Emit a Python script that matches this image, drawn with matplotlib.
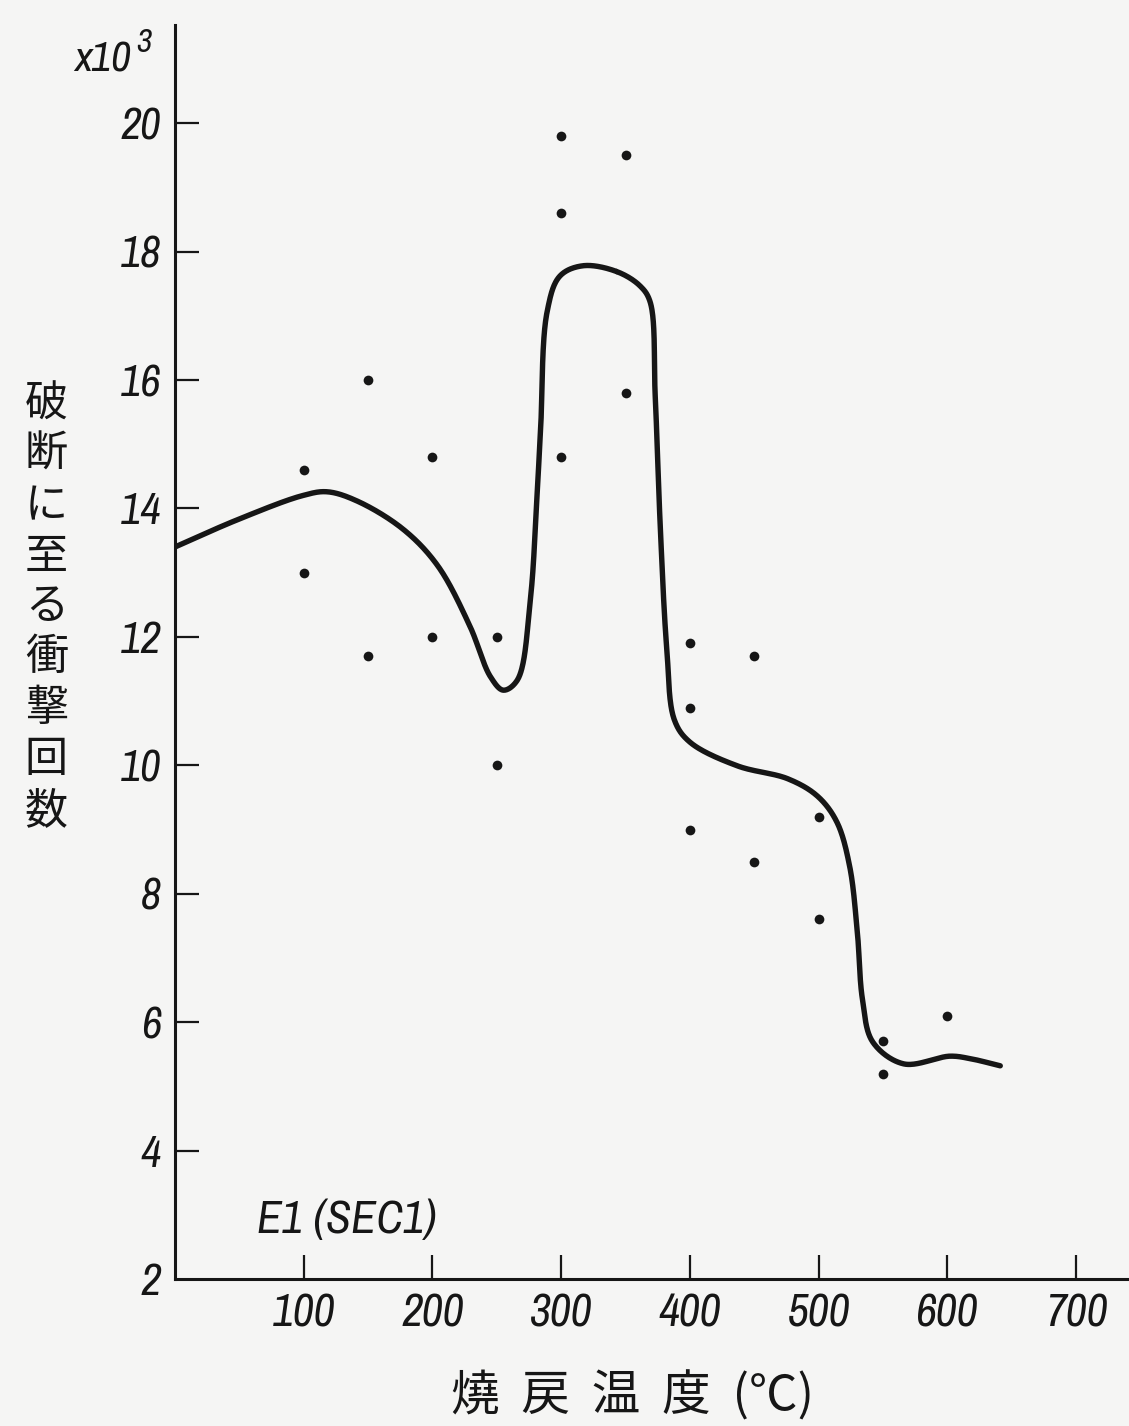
import numpy as np
import matplotlib

matplotlib.use("Agg")
import matplotlib.pyplot as plt

# measured impact counts to fracture (x10^3) vs. tempering temperature
temp_pts = [100, 100, 150, 150, 200, 200, 250, 250, 300, 300, 300,
            350, 350, 400, 400, 400, 450, 450, 500, 500, 550, 550, 600]
count_pts = [14.6, 13.0, 16.0, 11.7, 14.8, 12.0, 12.0, 10.0, 19.8, 18.6, 14.8,
             19.5, 15.8, 11.9, 10.9, 9.0, 11.7, 8.5, 9.2, 7.6, 5.7, 5.2, 6.1]

# hand-drawn trend curve, control points
curve_t = [0, 48, 99, 118, 141, 177, 204, 229, 245, 255, 266, 276, 281,
           284, 289, 299, 317, 343, 361, 369, 373, 377, 382, 388, 400,
           437, 476, 499, 514, 524, 530, 534, 542, 566, 602, 618, 641]
curve_n = [13.40, 13.82, 14.20, 14.26, 14.12, 13.68, 13.11, 12.17, 11.38,
           11.17, 11.33, 12.58, 14.13, 15.24, 17.06, 17.62, 17.78, 17.69,
           17.47, 17.22, 15.75, 13.68, 11.81, 10.70, 10.36, 9.99, 9.79,
           9.52, 9.12, 8.43, 7.40, 6.35, 5.69, 5.35, 5.47, 5.43, 5.32]

x_ticks = [100, 200, 300, 400, 500, 600, 700]
y_ticks = [2, 4, 6, 8, 10, 12, 14, 16, 18, 20]

XLIM = (0, 741)
YLIM = (2, 21.53)
INK = "#161616"
PAPER = "#f5f5f4"
NUM_FONT = ["Archivo Narrow", "Liberation Sans", "DejaVu Sans"]
JP_FONT = ["Noto Sans CJK JP", "DejaVu Sans"]


def catmull_rom(xs, ys, sx, sy, n=40):
    """Centripetal Catmull-Rom through the points, scaled to axis units."""
    p = np.column_stack([np.asarray(xs) / sx, np.asarray(ys) / sy])
    p = np.vstack([2 * p[0] - p[1], p, 2 * p[-1] - p[-2]])
    out = []
    for i in range(1, len(p) - 2):
        p0, p1, p2, p3 = p[i - 1], p[i], p[i + 1], p[i + 2]
        t0 = 0.0
        t1 = t0 + np.linalg.norm(p1 - p0) ** 0.5
        t2 = t1 + np.linalg.norm(p2 - p1) ** 0.5
        t3 = t2 + np.linalg.norm(p3 - p2) ** 0.5
        t = np.linspace(t1, t2, n)[:, None]
        a1 = (t1 - t) / (t1 - t0) * p0 + (t - t0) / (t1 - t0) * p1
        a2 = (t2 - t) / (t2 - t1) * p1 + (t - t1) / (t2 - t1) * p2
        a3 = (t3 - t) / (t3 - t2) * p2 + (t - t2) / (t3 - t2) * p3
        b1 = (t2 - t) / (t2 - t0) * a1 + (t - t0) / (t2 - t0) * a2
        b2 = (t3 - t) / (t3 - t1) * a2 + (t - t1) / (t3 - t1) * a3
        c = (t2 - t) / (t2 - t1) * b1 + (t - t1) / (t2 - t1) * b2
        out.append(c)
    c = np.vstack(out)
    return c[:, 0] * sx, c[:, 1] * sy


fig = plt.figure(figsize=(11.29, 14.26), dpi=100, facecolor=PAPER)
ax = fig.add_axes([0.155, 0.1031, 0.845, 0.8794], facecolor=PAPER)

sx = (XLIM[1] - XLIM[0]) / 954.0
sy = (YLIM[1] - YLIM[0]) / 1254.0
cx, cy = catmull_rom(curve_t, curve_n, sx, sy)
ax.plot(cx, cy, color=INK, lw=3.9, solid_capstyle="round", zorder=3)
ax.plot(temp_pts, count_pts, "o", color=INK, ms=7, mec="none", zorder=4)

ax.set_xlim(*XLIM)
ax.set_ylim(*YLIM)
for side in ("top", "right"):
    ax.spines[side].set_visible(False)
for side in ("left", "bottom"):
    ax.spines[side].set_linewidth(2.2)
    ax.spines[side].set_color(INK)

ax.set_xticks(x_ticks)
ax.set_yticks(y_ticks)
ax.set_xticklabels([str(v) for v in x_ticks], family=NUM_FONT, style="italic",
                   fontsize=33, color=INK)
ax.set_yticklabels([str(v) for v in y_ticks], family=NUM_FONT, style="italic",
                   fontsize=32, color=INK)
ax.tick_params(axis="both", direction="in", length=17, width=1.6, color=INK)
ax.tick_params(axis="x", pad=10)
ax.tick_params(axis="y", pad=10)
# the bottom tick at 2 sits on the axis line; hide its mark but keep label
ax.yaxis.get_major_ticks()[0].tick1line.set_visible(False)

# scale note above the y axis
fig.text(0.066, 0.958, "x10", family=NUM_FONT, style="italic", fontsize=31,
         color=INK, ha="left", va="center")
fig.text(0.121, 0.970, "3", family=NUM_FONT, style="italic", fontsize=24,
         color=INK, ha="left", va="center")

# vertical Japanese y label, one character per line
ylab = "破断に至る衝撃回数"
fig.text(0.041, 0.574, "\n".join(ylab), family=JP_FONT, fontsize=31,
         color=INK, ha="center", va="center", linespacing=1.2)

fig.text(0.56, 0.021, "燒  戻  温  度  (℃)", family=JP_FONT, fontsize=35,
         color=INK, ha="center", va="center")

ax.text(64, 2.92, "E1 (SEC1)", family=NUM_FONT, style="italic", fontsize=33,
        color=INK, ha="left", va="center")

fig.savefig("out.png", dpi=100, facecolor=PAPER)
